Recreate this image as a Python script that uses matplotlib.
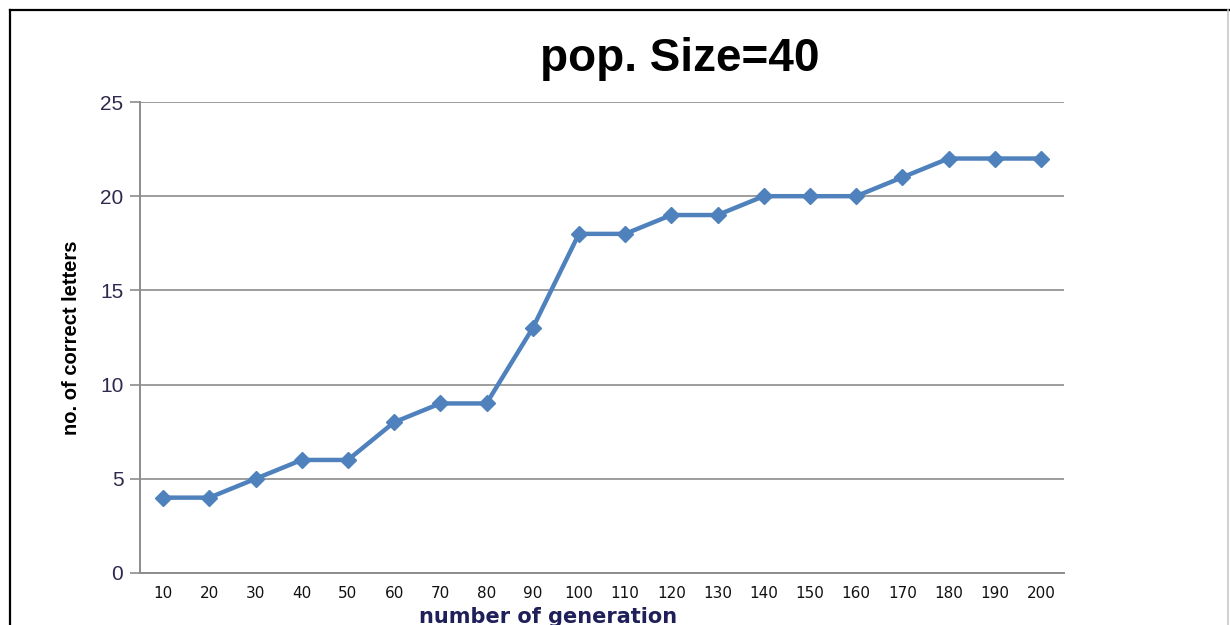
import matplotlib
matplotlib.use('Agg')
import matplotlib.pyplot as plt
import numpy as np
from matplotlib.lines import Line2D

generations = ["10", "20", "30", "40", "50", "60", "70", "80", "90", "100",
               "110", "120", "130", "140", "150", "160", "170", "180", "190", "200"]
correct_letters = [4, 4, 5, 6, 6, 8, 9, 9, 13, 18,
                   18, 19, 19, 20, 20, 20, 21, 22, 22, 22]
y_ticks = [0, 5, 10, 15, 20, 25]

_LINE = "#4F81BD"
_GRID = "#8C8C8C"

fig = plt.figure(figsize=(12.3, 6.25), dpi=100)
ax = fig.add_axes([140 / 1230, 52 / 625, 924 / 1230, 471 / 625])

x = np.arange(len(generations))
ax.plot(x, correct_letters, color=_LINE, linewidth=3.2, marker="D",
        markersize=8.5, markerfacecolor=_LINE, markeredgecolor=_LINE, zorder=3)

ax.set_xlim(-0.5, len(generations) - 0.5)
ax.set_ylim(0, 25)
ax.set_yticks(y_ticks)
ax.set_yticklabels([str(v) for v in y_ticks], family="Liberation Sans",
                   fontsize=15, color="#2E2A4F")
ax.set_xticks(x)
ax.set_xticklabels(generations, family="DejaVu Sans", fontsize=11, color="#111111")

ax.grid(axis="y", color=_GRID, linewidth=1.2)
ax.tick_params(axis="y", length=7, width=1.2, color=_GRID, pad=5)
ax.tick_params(axis="x", length=0, pad=9)
for side in ("top", "right"):
    ax.spines[side].set_visible(False)
for side in ("left", "bottom"):
    ax.spines[side].set_color(_GRID)
    ax.spines[side].set_linewidth(1.4)
ax.set_axisbelow(True)

ax.set_ylabel("no. of correct letters",
              family=["Liberation Sans Narrow", "DejaVu Sans Condensed", "Liberation Sans"],
              fontweight="bold", fontsize=14.5, labelpad=14, color="#000000")
fig.text(548 / 1230, 2 / 625, "number of generation", family="DejaVu Sans",
         fontweight="bold", fontsize=15, color="#1F1F5A", ha="center", va="baseline")
fig.text(680 / 1230, (625 - 71) / 625, "pop. Size=40", family="Liberation Sans",
         fontweight="bold", fontsize=33, color="#000000", ha="center", va="baseline")

# outer frame
fig.add_artist(Line2D([10 / 1230, 10 / 1230], [0, 615 / 625], color="black", linewidth=1.6))
fig.add_artist(Line2D([10 / 1230, 1], [615 / 625, 615 / 625], color="black", linewidth=1.6))
fig.add_artist(Line2D([1228 / 1230, 1228 / 1230], [0, 615 / 625], color="#C8C8C8", linewidth=1.2))

fig.savefig("out.png", dpi=100)
